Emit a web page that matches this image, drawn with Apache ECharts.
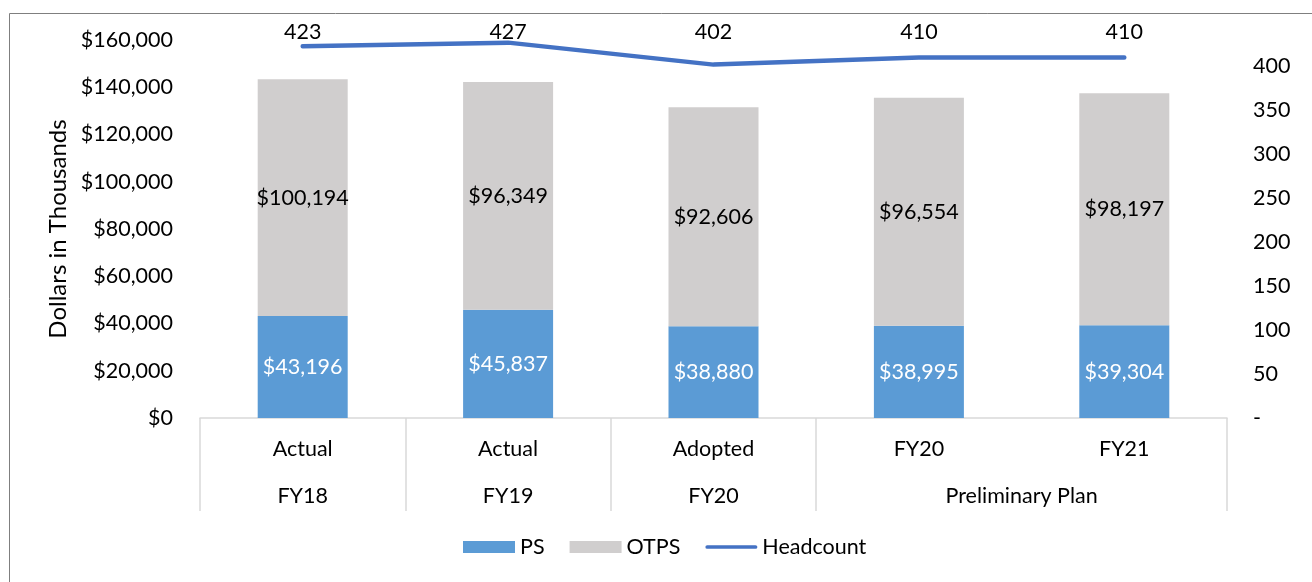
<!DOCTYPE html>
<html>
<head>
<meta charset="utf-8">
<script src="https://cdn.jsdelivr.net/npm/echarts@6/dist/echarts.min.js"></script>
<style>
html,body{margin:0;padding:0;background:#fff;}
#chart{width:1312px;height:582px;}
</style>
</head>
<body>
<div id="chart"></div>
<script>
const categories = ['Actual', 'Actual', 'Adopted', 'FY20', 'FY21'];
const groupLabels = ['FY18', 'FY19', 'FY20', 'Preliminary Plan'];
const groupSpans = [1, 1, 1, 2];
const psValues = [43196, 45837, 38880, 38995, 39304];
const otpsValues = [100194, 96349, 92606, 96554, 98197];
const headcount = [423, 427, 402, 410, 410];

const FONT = 'Lato';
const FS = 21.5;
const money = v => '$' + Number(v).toLocaleString('en-US');

// Build half-step slots for the group label axis
const groupSlots = new Array(categories.length * 2 + 1).fill('');
let start = 0;
groupLabels.forEach((g, i) => {
  groupSlots[2 * start + groupSpans[i]] = g;
  start += groupSpans[i];
});

const chart = echarts.init(document.getElementById('chart'));
chart.setOption({
  animation: false,
  textStyle: {fontFamily: FONT, color: '#000'},
  graphic: [{
    type: 'rect', left: 7, top: 11, shape: {width: 1320, height: 600},
    style: {fill: 'none', stroke: '#7f7f7f', lineWidth: 1}, silent: true, z: -1
  }],
  grid: {left: 200, right: 85, top: 40, bottom: 164},
  legend: {
    bottom: 19, left: 458, itemWidth: 52, itemHeight: 12, itemGap: 25,
    symbolKeepAspect: true,
    textStyle: {fontFamily: FONT, fontSize: FS, color: '#000'},
    data: [
      {name: 'PS', icon: 'rect'},
      {name: 'OTPS', icon: 'rect'},
      {name: 'Headcount', icon: 'path://M2,0 L54,0 A2,2 0 0 1 54,4 L2,4 A2,2 0 0 1 2,0 Z'}
    ]
  },
  xAxis: [{
    type: 'category', data: categories, position: 'bottom',
    axisLine: {show: true, lineStyle: {color: '#d9d9d9', width: 1.5}},
    axisTick: {show: true, length: 93, interval: (i) => i !== 4, lineStyle: {color: '#d9d9d9', width: 1.5}},
    axisLabel: {fontSize: FS, color: '#000', margin: 20, interval: 0}
  }, {
    type: 'category', data: groupSlots, position: 'bottom', offset: 47, boundaryGap: false,
    axisLine: {show: false}, axisTick: {show: false},
    axisLabel: {fontSize: FS, color: '#000', margin: 20, interval: 0}
  }],
  yAxis: [{
    type: 'value', min: 0, max: 160000, interval: 20000,
    name: 'Dollars in Thousands', nameLocation: 'middle', nameGap: 130, nameRotate: 90,
    nameTextStyle: {fontSize: 24, color: '#000'},
    axisLine: {show: false}, axisTick: {show: false}, splitLine: {show: false},
    axisLabel: {fontSize: FS, color: '#000', margin: 27, formatter: money}
  }, {
    type: 'value', min: 0, max: 430, interval: 50, position: 'right',
    axisLine: {show: false}, axisTick: {show: false}, splitLine: {show: false},
    axisLabel: {fontSize: FS, color: '#000', margin: 26, showMaxLabel: false,
      formatter: v => v === 0 ? '-' : String(v)}
  }],
  series: [{
    name: 'PS', type: 'bar', stack: 'total', data: psValues, barWidth: 90,
    itemStyle: {color: '#5b9bd5'},
    label: {show: true, position: 'inside', color: '#fff', fontSize: FS, fontFamily: FONT, formatter: p => money(p.value)}
  }, {
    name: 'OTPS', type: 'bar', stack: 'total', data: otpsValues, barWidth: 90,
    itemStyle: {color: '#d0cece'},
    label: {show: true, position: 'inside', color: '#000', fontSize: FS, fontFamily: FONT, formatter: p => money(p.value)}
  }, {
    name: 'Headcount', type: 'line', yAxisIndex: 1, data: headcount,
    symbol: 'circle', symbolSize: 2, showSymbol: true,
    lineStyle: {color: '#4472c4', width: 4.5, cap: 'round'},
    itemStyle: {color: '#4472c4'},
    label: {show: true, position: 'top', distance: 6, color: '#000', fontSize: FS, fontFamily: FONT}
  }]
});

// Excel places the headcount labels in a row near the top of the plot;
// compute each label's distance from its point via the axis scale.
const labelRowY = 31;
const hcData = headcount.map(v => {
  const py = chart.convertToPixel({yAxisIndex: 1}, v);
  return {value: v, label: {distance: py - labelRowY - FS * 0.6}};
});
chart.setOption({series: [{}, {}, {data: hcData}]});
</script>
</body>
</html>
